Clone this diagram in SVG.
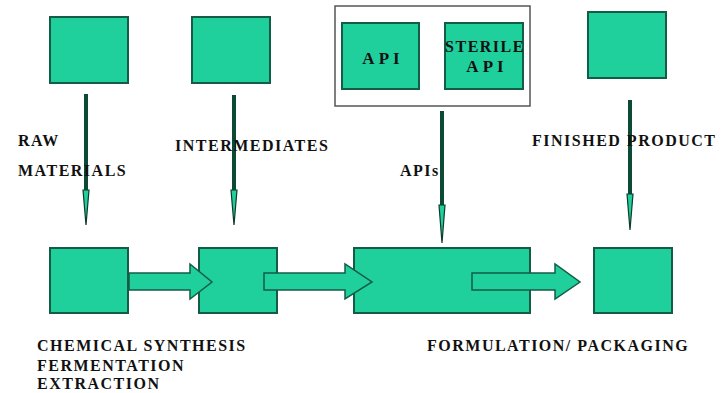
<svg xmlns="http://www.w3.org/2000/svg" width="727" height="393" viewBox="0 0 727 393">
<defs>
<style>
.box{fill:#1fcf9c;stroke:#145c45;stroke-width:2}
.frame{fill:#ffffff;stroke:#555555;stroke-width:1.5}
.line{stroke:#0d4a36;stroke-width:4;fill:none}
.head{fill:#1fcf9c;stroke:#0d3a2a;stroke-width:1.2}
.blk{fill:#1fcf9c;stroke:#145c45;stroke-width:1.5}
.t{font-family:"Liberation Serif","Times New Roman",serif;font-weight:bold;font-size:16px;letter-spacing:1.5px;fill:#111111}
.big{font-size:17px;letter-spacing:4px}
</style>
</defs>
<rect width="727" height="393" fill="#ffffff"/>
<g id="connectors">
<line class="line" x1="86" y1="94" x2="86" y2="196"/>
<path class="head" d="M83,190 L89,190 L86,225 Z"/>
<line class="line" x1="234" y1="95" x2="234" y2="196"/>
<path class="head" d="M231,190 L237,190 L234,225 Z"/>
<line class="line" x1="442" y1="111" x2="442" y2="210"/>
<path class="head" d="M439,205 L445,205 L442,243 Z"/>
<line class="line" x1="630" y1="100" x2="630" y2="200"/>
<path class="head" d="M627,194 L633,194 L630,230 Z"/>
</g>
<g id="node-raw"><rect class="box" x="50" y="17" width="78" height="66"/></g>
<g id="node-intermediates"><rect class="box" x="192" y="17" width="78" height="66"/></g>
<g id="node-apis">
<rect class="frame" x="335" y="6" width="195" height="100"/>
<rect class="box" x="342" y="23" width="77" height="66"/>
<text class="t big" x="383" y="64" text-anchor="middle">API</text>
<rect class="box" x="445" y="23" width="78" height="66"/>
<text class="t" x="485" y="52" text-anchor="middle">STERILE</text>
<text class="t big" x="487" y="72" text-anchor="middle">API</text>
</g>
<g id="node-finished"><rect class="box" x="588" y="12" width="78" height="66"/></g>
<g id="node-chem"><rect class="box" x="50" y="248" width="78" height="65"/></g>
<g id="node-inter2"><rect class="box" x="199" y="248" width="78" height="65"/></g>
<g id="node-form"><rect class="box" x="354" y="248" width="176" height="65"/></g>
<g id="node-pack"><rect class="box" x="594" y="248" width="78" height="65"/></g>
<g id="block-arrows">
<path class="blk" d="M129,273 L190,273 L190,264 L212,282 L190,299 L190,290 L129,290 Z"/>
<path class="blk" d="M264,273 L345,273 L345,264 L372,282 L345,299 L345,290 L264,290 Z"/>
<path class="blk" d="M472,273 L555,273 L555,264 L580,282 L555,299 L555,290 L472,290 Z"/>
</g>
<g id="labels">
<text class="t" x="18" y="146" letter-spacing="3">RAW</text>
<text class="t" x="18" y="176">MATERIALS</text>
<text class="t" x="175" y="151">INTERMEDIATES</text>
<text class="t" x="400" y="176">APIs</text>
<text class="t" x="532" y="146" letter-spacing="1">FINISHED PRODUCT</text>
<text class="t" x="37" y="351">CHEMICAL SYNTHESIS</text>
<text class="t" x="37" y="371">FERMENTATION</text>
<text class="t" x="37" y="389">EXTRACTION</text>
<text class="t" x="427" y="351">FORMULATION/ PACKAGING</text>
</g>
</svg>
